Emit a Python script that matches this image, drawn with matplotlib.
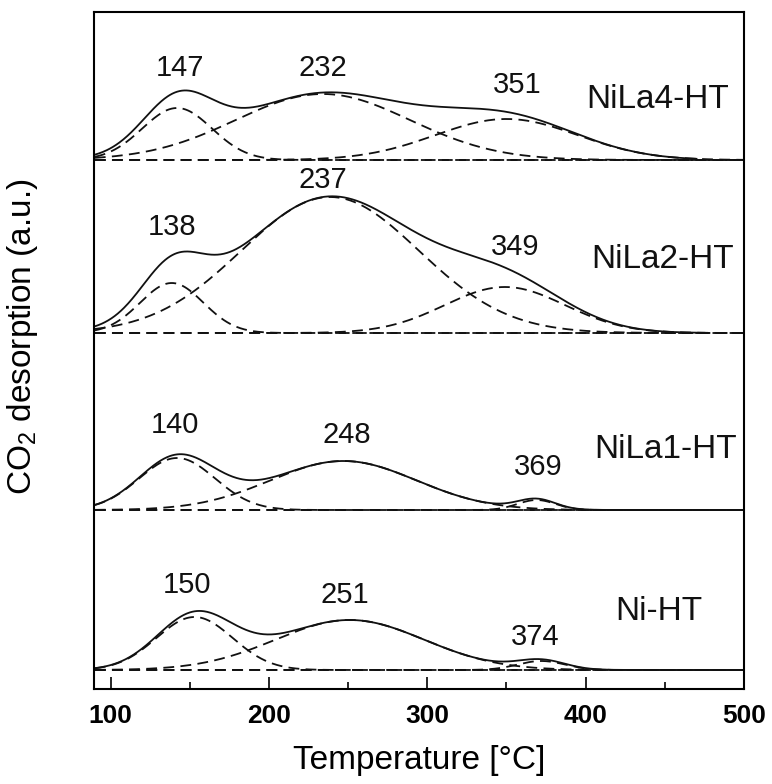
import matplotlib
matplotlib.use("Agg")
import matplotlib.pyplot as plt
import numpy as np

plt.rcParams['font.family'] = ['Liberation Sans', 'DejaVu Sans']
plt.rcParams['mathtext.fontset'] = 'custom'
plt.rcParams['mathtext.rm'] = 'Liberation Sans'

# samples, bottom to top
samples = ['Ni-HT', 'NiLa1-HT', 'NiLa2-HT', 'NiLa4-HT']
offsets = [0.19, 1.79, 3.56, 5.29]
t_end = [500, 500, 475, 470]

# fitted gaussian components: centre [C], height [a.u.], sigma [C]
centres = [[153, 251, 372], [142, 247, 369], [138.6, 238.6, 349], [142, 234, 350]]
heights = [[0.53, 0.50, 0.09], [0.52, 0.49, 0.10], [0.50, 1.36, 0.46], [0.52, 0.66, 0.41]]
sigmas = [[24, 47, 15], [24, 46, 12], [20, 56, 38], [22, 55, 45]]

# peak maxima labels and where they sit
peak_labels = [['150', '251', '374'], ['140', '248', '369'],
               ['138', '237', '349'], ['147', '232', '351']]
label_t = [[148, 248, 368], [140.5, 249.4, 370], [138.6, 234, 355.7], [143.7, 234, 357]]
label_y = [[1.04, 0.94, 0.52], [2.64, 2.54, 2.22], [4.62, 5.09, 4.42], [6.21, 6.21, 6.04]]
name_t = [446, 450.6, 448.7, 445.6]
name_y = [0.77, 2.39, 4.29, 5.89]

col = '#111111'
dash = (0, (6, 3.5))
T = np.linspace(90, 500, 821)

fig = plt.figure(figsize=(7.72, 7.84), dpi=100)
ax = fig.add_axes([94 / 772, 95 / 784, 650 / 772, 677 / 784])

for i, name in enumerate(samples):
    off = offsets[i]
    total = np.zeros_like(T)
    for c, h, s in zip(centres[i], heights[i], sigmas[i]):
        comp = h * np.exp(-(T - c) ** 2 / (2 * s ** 2))
        total += comp
        ax.plot(T, comp + off, color=col, lw=1.3, ls=dash)
    ax.plot(T, np.full_like(T, off), color=col, lw=1.3, ls=dash)
    m = T <= t_end[i]
    ax.plot(T[m], total[m] + off, color=col, lw=1.3)
    for lab, lt, ly in zip(peak_labels[i], label_t[i], label_y[i]):
        ax.text(lt, ly, lab, fontsize=21, ha='center', va='center', color=col)
    ax.text(name_t[i], name_y[i], name, fontsize=24, ha='center', va='center', color=col)

ax.set_xlim(89.5, 500)
ax.set_ylim(0, 6.77)
ax.set_yticks([])
ax.set_xticks([100, 200, 300, 400, 500])
ax.set_xticks([150, 250, 350, 450], minor=True)
ax.tick_params(axis='x', which='major', direction='in', length=8.5, width=1.2,
               pad=11, labelsize=19)
ax.tick_params(axis='x', which='minor', direction='in', length=5, width=1.2)
for lab in ax.get_xticklabels():
    lab.set_fontweight('bold')
for sp in ax.spines.values():
    sp.set_linewidth(1.5)

ax.set_xlabel('Temperature [°C]', fontsize=24)
ax.xaxis.set_label_coords(0.5, -0.083)
ax.set_ylabel('CO$_2$ desorption (a.u.)', fontsize=24)
ax.yaxis.set_label_coords(-0.083, 0.52)

fig.savefig('out.png', dpi=100)
